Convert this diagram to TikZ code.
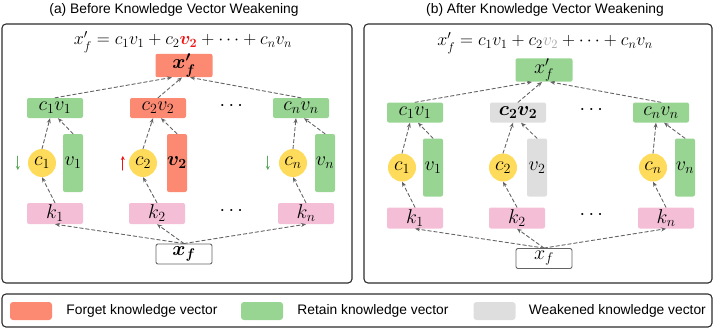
\RequirePackage{fix-cm}
\documentclass[tikz,border=0pt]{standalone}
\usepackage{amsmath,amssymb}
\usepackage{bm}
\usepackage{fontspec}
\setsansfont{Liberation Sans}
\usepackage{xcolor}
\usepackage{tikz}
\usetikzlibrary{arrows.meta,calc,positioning}
\definecolor{forgetred}{RGB}{252,138,115}
\definecolor{retaingreen}{RGB}{152,213,147}
\definecolor{weakgray}{RGB}{222,222,222}
\definecolor{keypink}{RGB}{244,190,214}
\definecolor{coefyellow}{RGB}{255,219,92}
\definecolor{flowgray}{RGB}{100,100,100}
\definecolor{framegray}{RGB}{45,45,45}
\definecolor{cuegreen}{RGB}{92,170,92}
\definecolor{cuered}{RGB}{240,20,20}
\definecolor{fadegray}{RGB}{168,162,162}
\newcommand{\mathsize}{\fontsize{20}{23}\selectfont}
\newcommand{\legendsize}{\fontsize{13.8}{16}\selectfont\sffamily}
\tikzset{
  vecbox/.style={rounded corners=2pt, minimum width=56pt, minimum height=20pt,
    inner sep=0pt, font=\mathsize},
  keybox/.style={vecbox, fill=keypink, minimum height=21pt},
  valbar/.style={rounded corners=2pt, minimum width=20pt, minimum height=58pt,
    inner sep=0pt, font=\mathsize},
  coef/.style={circle, fill=coefyellow, minimum size=28pt, inner sep=0pt,
    font=\mathsize},
  flow/.style={flowgray, dash pattern=on 3.5pt off 2.5pt, line width=.9pt,
    -{Stealth[length=5pt,width=4pt]}},
  cue/.style={line width=1pt, -{Stealth[length=4pt,width=4pt]}},
  frame/.style={draw=framegray, line width=1.1pt, rounded corners=4pt},
  swatch/.style={rounded corners=3pt, minimum width=42pt, minimum height=18pt,
    inner sep=0pt},
  legendtext/.style={font=\legendsize, inner sep=0pt},
}
% One panel: #1 name prefix, #2 fill of the output, #3 output label,
% #4 fill of the second column, #5 its product label, #6 its value label,
% #7 input label.
\newcommand{\knowpanel}[7]{%
  \node[vecbox, fill=#2, minimum width=57pt, minimum height=21pt]
    (#1top) at (184,65.5) {#3};
  \node[vecbox, fill=white, draw=flowgray, line width=.9pt]
    (#1xf) at (184,254) {#7};
  \foreach \i/\px/\cx/\vx/\kx/\tx/\colfill/\plab/\vlab in {%
      1/55/42/73/55/-12/retaingreen/{$c_1v_1$}/{$v_1$},
      2/158/143/177/157/-2/#4/{#5}/{#6},
      n/301/293/325/306/6/retaingreen/{$c_nv_n$}/{$v_n$}}{%
    \node[vecbox, fill=\colfill] (#1p\i) at (\px,108) {\plab};
    \node[coef] (#1c\i) at (\cx,163) {$c_\i$};
    \node[valbar, fill=\colfill] (#1v\i) at (\vx,163) {\vlab};
    \node[keybox] (#1k\i) at (\kx,213.5) {$k_\i$};
    \draw[flow] (#1xf.north) -- (#1k\i.south);
    \draw[flow] (#1k\i.north) -- (#1c\i.south);
    \draw[flow] (#1c\i.north) -- ($(#1p\i.south)+(-5,0)$);
    \draw[flow] (#1v\i.north) -- ($(#1p\i.south)+(3,0)$);
    \draw[flow] (#1p\i.north) -- ($(#1top.south)+(\tx,0)$);
  }
  \node[font=\mathsize] (#1dotsp) at (233,106) {$\cdots$};
  \node[font=\mathsize] (#1dotsk) at (233,211) {$\cdots$};
}

\begin{document}
\begin{tikzpicture}[x=1pt, y=-1pt, line cap=round, line join=round]
  \useasboundingbox (0,0) rectangle (714,330);

  % Before weakening.
  \node[legendtext] (atitle) at (174,10) {(a) Before Knowledge Vector Weakening};
  \draw[frame] (2,24) rectangle (352,283);
  \node[font=\fontsize{18}{21}\selectfont] (aformula) at (183,42)
    {$x'_f = c_1v_1 + c_2{\color{cuered}\bm{v_2}} + \cdots + c_nv_n$};
  \knowpanel{a}{forgetred}{$\bm{x'_f}$}{forgetred}{$c_2v_2$}{$\bm{v_2}$}{$\bm{x_f}$}
  \draw[cue, cuegreen] ($(ac1.west)+(-10,-7)$) -- ($(ac1.west)+(-10,7)$);
  \draw[cue, cuered] ($(ac2.west)+(-6,7)$) -- ($(ac2.west)+(-6,-7)$);
  \draw[cue, cuegreen] ($(acn.west)+(-11,-7)$) -- ($(acn.west)+(-11,7)$);

  % After weakening.
  \node[legendtext] (btitle) at (545,10) {(b) After Knowledge Vector Weakening};
  \draw[frame] (364,24) rectangle (712,283);
  \node[font=\fontsize{18}{21}\selectfont] (bformula) at (545,43)
    {$x'_f = c_1v_1 + c_2{\color{fadegray}v_2} + \cdots + c_nv_n$};
  \begin{scope}[shift={(360,4.5)}]
    \knowpanel{b}{retaingreen}{$x'_f$}{weakgray}{$\bm{c_2v_2}$}{$v_2$}{$x_f$}
  \end{scope}

  % Legend.
  \draw[frame] (2,294) rectangle (712,327);
  \node[swatch, fill=forgetred] (forgetkey) at (31,311) {};
  \node[legendtext, right=14pt of forgetkey] (forgetlabel) {Forget knowledge vector};
  \node[swatch, fill=retaingreen] (retainkey) at (262,311) {};
  \node[legendtext, right=14pt of retainkey] (retainlabel) {Retain knowledge vector};
  \node[swatch, fill=weakgray] (weakkey) at (494.5,311) {};
  \node[legendtext, right=13pt of weakkey] (weaklabel) {Weakened knowledge vector};
\end{tikzpicture}
\end{document}
